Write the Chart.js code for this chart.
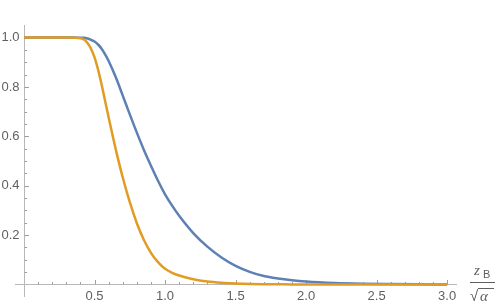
<!DOCTYPE html>
<html>
<head>
<meta charset="utf-8">
<script src="https://cdn.jsdelivr.net/npm/chart.js@4/dist/chart.umd.min.js"></script>
<style>
  html, body { margin: 0; padding: 0; background: #fff; }
  #wrap { width: 498px; height: 306px; }
</style>
</head>
<body>
<div id="wrap"><canvas id="chart" width="498" height="306"></canvas></div>
<script>
// values
const xValues = [0, 0.1, 0.2, 0.3, 0.35, 0.4, 0.425, 0.45, 0.475, 0.5, 0.525, 0.55, 0.575, 0.6, 0.65, 0.7, 0.75,
                 0.8, 0.85, 0.9, 0.95, 1.0, 1.05, 1.1, 1.2, 1.3, 1.4, 1.5, 1.6, 1.7, 1.8, 1.9, 2.0, 2.2, 2.4, 2.6, 2.8, 3.0];
const blueValues = [1, 1, 1, 1, 1, 0.9995, 0.999, 0.996, 0.991, 0.984, 0.972, 0.955, 0.932, 0.905, 0.84, 0.765, 0.689,
                    0.615, 0.545, 0.481, 0.42, 0.365, 0.319, 0.278, 0.208, 0.153, 0.109, 0.075, 0.051, 0.034, 0.024, 0.017,
                    0.012, 0.006, 0.003, 0.0015, 0.0005, 0];
const orangeValues = [1, 1, 1, 1, 0.9995, 0.997, 0.992, 0.978, 0.955, 0.92, 0.87, 0.81, 0.743, 0.676, 0.548, 0.433, 0.333,
                      0.248, 0.18, 0.128, 0.09, 0.063, 0.047, 0.036, 0.021, 0.012, 0.007, 0.004, 0.002, 0.001, 0.0005, 0,
                      0, 0, 0, 0, 0, 0];

const xTickValues = [0.5, 1.0, 1.5, 2.0, 2.5, 3.0];
const xTickLabels = ['0.5', '1.0', '1.5', '2.0', '2.5', '3.0'];
const yTickValues = [0.2, 0.4, 0.6, 0.8, 1.0];
const yTickLabels = ['0.2', '0.4', '0.6', '0.8', '1.0'];

const toPoints = (ys) => xValues.map((x, i) => ({ x: x, y: ys[i] }));

// Mathematica-like axes through the origin, ticks pointing inward
const axesPlugin = {
    id: 'mmaAxes',
    beforeDatasetsDraw(chart) {
        const ctx = chart.ctx;
        const xs = chart.scales.x, ys = chart.scales.y;
        const area = chart.chartArea;
        const x0 = Math.round(xs.getPixelForValue(0)) + 0.5;
        const y0 = Math.round(ys.getPixelForValue(0)) + 0.5;

        ctx.save();
        ctx.lineWidth = 1;
        ctx.strokeStyle = '#b8b8b8';
        ctx.beginPath();
        ctx.moveTo(area.left, y0); ctx.lineTo(area.right, y0);
        ctx.moveTo(x0, area.top); ctx.lineTo(x0, area.bottom);
        ctx.stroke();

        ctx.strokeStyle = '#a0a0a0';
        ctx.beginPath();
        // minor + major ticks on x
        for (let i = 1; i <= 30; i++) {
            const px = Math.round(xs.getPixelForValue(i / 10)) + 0.5;
            const len = (i % 5 === 0) ? 4.5 : 2.5;
            ctx.moveTo(px, y0); ctx.lineTo(px, y0 - len);
        }
        // minor + major ticks on y
        for (let i = 1; i <= 20; i++) {
            const py = Math.round(ys.getPixelForValue(i / 20)) + 0.5;
            const len = (i % 4 === 0) ? 4.5 : 2.5;
            ctx.moveTo(x0, py); ctx.lineTo(x0 + len, py);
        }
        ctx.stroke();

        ctx.fillStyle = '#606060';
        ctx.font = "13px 'Liberation Sans', Arial, sans-serif";
        ctx.textBaseline = 'middle';
        ctx.textAlign = 'center';
        xTickValues.forEach((v, i) => {
            ctx.fillText(xTickLabels[i], xs.getPixelForValue(v), y0 + 12);
        });
        ctx.textAlign = 'right';
        yTickValues.forEach((v, i) => {
            ctx.fillText(yTickLabels[i], x0 - 5, ys.getPixelForValue(v));
        });

        // axis label  z_B / sqrt(alpha)
        ctx.textAlign = 'left';
        ctx.textBaseline = 'alphabetic';
        ctx.font = "italic 15px 'Liberation Serif', 'DejaVu Serif', serif";
        ctx.fillText('z', 474, 275);
        ctx.font = "11px 'Liberation Sans', Arial, sans-serif";
        ctx.fillText('B', 483, 278);
        ctx.strokeStyle = '#606060';
        ctx.beginPath();
        ctx.moveTo(470, 282.5); ctx.lineTo(495, 282.5);
        ctx.stroke();
        ctx.font = "15px 'Liberation Sans', Arial, sans-serif";
        ctx.fillText('\u221A', 470, 301);
        ctx.beginPath();
        ctx.moveTo(478, 288.5); ctx.lineTo(494, 288.5);
        ctx.stroke();
        ctx.font = "italic 15px 'Liberation Serif', 'DejaVu Serif', serif";
        ctx.fillText('\u03B1', 480, 301);
        ctx.restore();
    }
};

new Chart(document.getElementById('chart'), {
    type: 'line',
    data: {
        datasets: [{
            label: 'orange',
            data: toPoints(orangeValues),
            borderColor: '#E19C24',
            borderWidth: 2.5,
            pointRadius: 0,
            cubicInterpolationMode: 'monotone',
            fill: false
        }, {
            label: 'blue',
            data: toPoints(blueValues),
            borderColor: '#5E81B5',
            borderWidth: 2.5,
            pointRadius: 0,
            cubicInterpolationMode: 'monotone',
            fill: false
        }]
    },
    options: {
        responsive: false,
        animation: false,
        layout: { padding: { left: 15, right: 41, top: 25, bottom: 9 } },
        scales: {
            x: { type: 'linear', min: -0.064, max: 3.07, display: false },
            y: { type: 'linear', min: -0.051, max: 1.051, display: false }
        },
        plugins: {
            legend: { display: false },
            tooltip: { enabled: false }
        }
    },
    plugins: [axesPlugin]
});
</script>
</body>
</html>
